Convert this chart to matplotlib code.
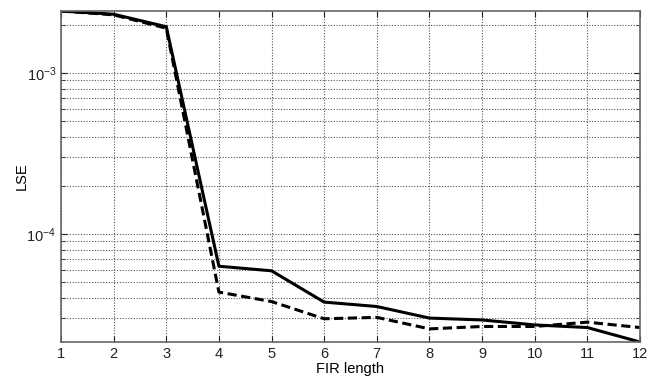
import numpy as np
import matplotlib
matplotlib.use("Agg")
import matplotlib.pyplot as plt
from matplotlib.ticker import LogLocator, NullFormatter

plt.rcParams['font.family'] = ['Liberation Sans', 'DejaVu Sans']

# ── Data ──────────────────────────────────────────────────────────────────
fir_length = [1, 2, 3, 4, 5, 6, 7, 8, 9, 10, 11, 12]
lse_solid = [2.43e-3, 2.32e-3, 1.94e-3, 6.3e-5, 5.9e-5, 3.77e-5,
             3.54e-5, 3.0e-5, 2.92e-5, 2.72e-5, 2.62e-5, 2.13e-5]
lse_dashed = [2.43e-3, 2.30e-3, 1.90e-3, 4.35e-5, 3.8e-5, 2.97e-5,
              3.03e-5, 2.57e-5, 2.66e-5, 2.66e-5, 2.83e-5, 2.62e-5]

fig = plt.figure(figsize=(6.59, 3.82), dpi=100)
ax = fig.add_axes([0.0926, 0.1047, 0.8785, 0.8665])

ax.semilogy(fir_length, lse_solid, color="black", lw=2.2, ls="-")
ax.semilogy(fir_length, lse_dashed, color="black", lw=2.2, ls=(0, (3, 1.5)))

ax.set_xlim(1, 12)
ax.set_ylim(min(lse_solid), max(lse_solid))
ax.set_xticks(fir_length)
ax.yaxis.set_major_locator(LogLocator(base=10))
ax.yaxis.set_minor_locator(LogLocator(base=10, subs=np.arange(2, 10)))
ax.yaxis.set_minor_formatter(NullFormatter())

grid_kw = dict(color="#555555", ls=(0, (1, 1.5)), lw=0.8)
ax.grid(True, which="major", axis="both", **grid_kw)
ax.grid(True, which="minor", axis="y", **grid_kw)

ax.tick_params(direction="in", which="both", top=True, right=True,
               labelsize=10.5, colors="#222222")
ax.tick_params(which="major", length=4)
ax.tick_params(which="minor", length=3)
for sp in ax.spines.values():
    sp.set_color("#666666")
    sp.set_linewidth(1.2)

ax.set_xlabel("FIR length", fontsize=10.5, labelpad=1)
ax.set_ylabel("LSE", fontsize=10.5, labelpad=-2)

plt.savefig("out.png", dpi=100)
